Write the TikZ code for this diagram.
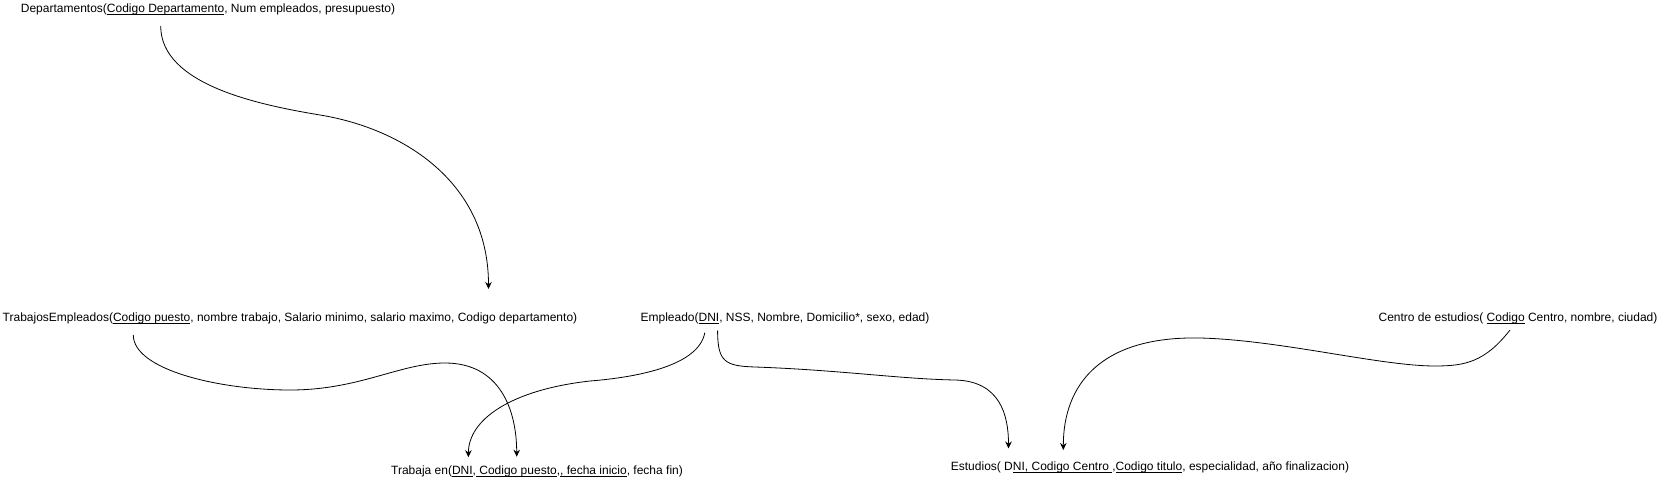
\documentclass[tikz,border=0pt]{standalone}
\usepackage{fontspec}
\setmainfont{Liberation Sans}
\usetikzlibrary{arrows.meta}
\newcommand\myul[1]{\setbox0\hbox{#1}\rlap{\rule[-1.9pt]{\wd0}{0.7pt}}\box0\relax}
\tikzset{
  lbl/.style={inner sep=0pt, font=\fontsize{12}{14}\selectfont},
  conn/.style={line width=0.8pt, -{Stealth[length=7pt,width=6.5pt]}}
}
\begin{document}
\begin{tikzpicture}[x=1pt,y=-1pt]
\useasboundingbox (0,0) rectangle (1677,489);
\node[lbl] (dep) at (208,9.6) {Departamentos(\myul{Codigo Departamento}, Num empleados, presupuesto)};
\node[lbl] (tra) at (290,318.7) {TrabajosEmpleados(\myul{Codigo puesto}, nombre trabajo, Salario minimo, salario maximo, Codigo departamento)};
\node[lbl] (emp) at (785,318.7) {Empleado(\myul{DNI}, NSS, Nombre, Domicilio*, sexo, edad)};
\node[lbl] (cen) at (1518,318.7) {Centro de estudios( \myul{Codigo} Centro, nombre, ciudad)};
\node[lbl] (ten) at (537,471.6) {Trabaja en(\myul{DNI},\myul{ Codigo puesto},\myul{, fecha inicio}, fecha fin)};
\node[lbl] (est) at (1150,467.4) {Estudios( D\myul{NI, Codigo Centro },\myul{Codigo titulo}, especialidad, año finalizacion)};
% connector endpoints
\coordinate (d1) at (160.7,26);
\coordinate (t1) at (488.5,289);
\coordinate (t2) at (133.3,335);
\coordinate (n1) at (516.7,456.7);
\coordinate (e1) at (704.8,332.6);
\coordinate (n2) at (468.4,457.2);
\coordinate (e2) at (717.6,330.5);
\coordinate (s1) at (1008.5,448.5);
\coordinate (c1) at (1510,330);
\coordinate (s2) at (1063.3,450);
% connectors
\draw[conn] (d1) .. controls (160.7,85) and (260,105) .. (320,115)
  .. controls (400,128) and (488.5,180) .. (t1);
\draw[conn] (t2) .. controls (133.3,370) and (220,390) .. (290,390)
  .. controls (360,390) and (400,363) .. (445,363)
  .. controls (500,363) and (516.7,410) .. (n1);
\draw[conn] (e1) .. controls (699,365) and (640,377) .. (590,381)
  .. controls (510,390) and (468.4,420) .. (n2);
\draw[conn] (e2) .. controls (717.6,362) and (725,366) .. (755,367)
  .. controls (840,370) and (900,379) .. (955,380)
  .. controls (1000,381) and (1008.5,415) .. (s1);
\draw[conn] (c1) .. controls (1485,362) and (1465,366) .. (1435,366)
  .. controls (1380,366) and (1280,340) .. (1200,338)
  .. controls (1100,336) and (1063.3,385) .. (s2);
\end{tikzpicture}
\end{document}
